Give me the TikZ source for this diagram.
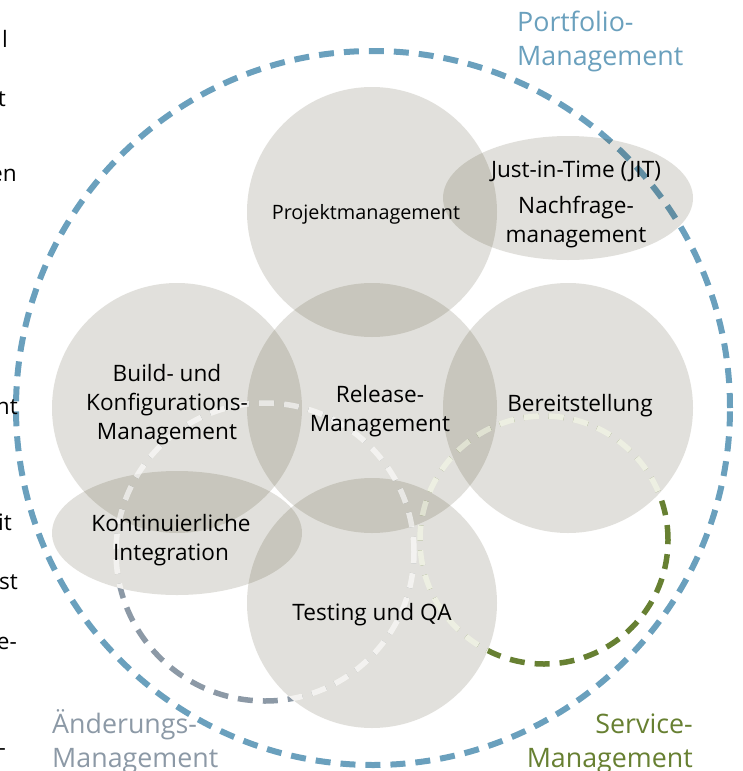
\documentclass[tikz,border=0pt]{standalone}
\usepackage{fontspec}
\setmainfont{Open Sans}
\usetikzlibrary{shapes.geometric,positioning}

\definecolor{bubblec}{RGB}{45,38,5}
\definecolor{pfblue}{RGB}{106,160,189}
\definecolor{aegrey}{RGB}{140,153,166}
\definecolor{svgreen}{RGB}{103,128,50}
\definecolor{svlight}{RGB}{249,255,233}

\pgfdeclarelayer{back}
\pgfsetlayers{back,main}

\tikzset{
  bubble/.style={circle,minimum size=250pt,inner sep=0pt,fill=bubblec,fill opacity=0.14},
  oval/.style={ellipse,minimum width=250pt,minimum height=124pt,inner sep=0pt,fill=bubblec,fill opacity=0.14},
  ring/.style={circle,inner sep=0pt,draw,line width=5.5pt,dash pattern=on 15pt off 10pt},
  txt/.style={font=\fontsize{22.6}{29}\selectfont,align=center,inner sep=0pt},
  area/.style={font=\fontsize{26.8}{34}\selectfont,inner sep=0pt},
  bubbles/.style={insert path={
      (PRJ.center) circle [radius=125] (REL.center) circle [radius=125]
      (BLD.center) circle [radius=125] (BER.center) circle [radius=125]
      (TST.center) circle [radius=125]
      (KI.center) ellipse [x radius=125,y radius=62]
      (JIT.center) ellipse [x radius=125,y radius=62]}},
}

\begin{document}
\begin{tikzpicture}[x=1pt,y=-1pt,node distance=196pt]
        \useasboundingbox (0,0) rectangle (742,771);

        % the seven areas
        \node[bubble] (REL) at (372,408)                       {};
        \node[bubble] (PRJ) [above of=REL]                     {};
        \node[bubble] (BLD) [left of=REL,node distance=195pt]  {};
        \node[bubble] (BER) [right of=REL]                     {};
        \node[bubble] (TST) [below of=REL,node distance=195pt] {};
        \node[oval]   (KI)  [below of=BLD,node distance=125pt] {};
        \node[oval]   (JIT) [above of=BER,node distance=210pt] {};

        % dashed rings go underneath
        \begin{pgfonlayer}{back}
                \node[ring,draw=pfblue,line width=6pt,minimum size=714pt] (PF) at (373,408) {};
                \node[ring,draw=aegrey,minimum size=298pt]                (AE) at (265,552) {};
                \node[ring,draw=svgreen,minimum size=248pt]               (SV) at (544,540) {};
                \begin{scope}
                        \clip[bubbles];
                        \node[ring,draw=white,line width=7.5pt,minimum size=298pt] (AE0) at (AE.center) {};
                        \node[ring,draw=white,line width=7.5pt,minimum size=248pt] (SV0) at (SV.center) {};
                \end{scope}
        \end{pgfonlayer}

        % pale dashes inside the areas
        \begin{scope}
                \clip[bubbles];
                \node[ring,draw=white,draw opacity=0.6,minimum size=298pt]   (AE1) at (AE.center) {};
                \node[ring,draw=svlight,draw opacity=0.5,minimum size=248pt] (SV1) at (SV.center) {};
        \end{scope}

        \node[txt,font=\fontsize{19.8}{24}\selectfont] (tPRJ) at ([shift={(-6,2)}]PRJ) {Projektmanagement};
        \node[txt] (tJIT) at ([shift={(8,6)}]JIT)    {Just-in-Time (JIT)\\[7pt]Nachfrage-\\management};
        \node[txt] (tBLD) at ([shift={(-10,-3)}]BLD) {Build- und\\Konfigurations-\\Management};
        \node[txt] (tREL) at ([shift={(8,3)}]REL)    {Release-\\Management};
        \node[txt] (tBER) at ([shift={(12,-2)}]BER)  {Bereitstellung};
        \node[txt] (tKI)  at ([shift={(-6,7)}]KI)    {Kontinuierliche\\Integration};
        \node[txt] (tTST) at ([shift={(0,12)}]TST)   {Testing und QA};

        \node[area,text=pfblue,align=left,anchor=base west]   (tPF) at (517,65)  {Portfolio-\\Management};
        \node[area,text=aegrey,align=left,anchor=base west]   (tAE) at (52,767)  {Änderungs-\\Management};
        \node[area,text=svgreen,align=right,anchor=base east] (tSV) at (693,767) {Service-\\Management};

        % ends of the neighbouring text
        \node[txt,anchor=base east] (f1) at (8,47)   {l};
        \node[txt,anchor=base east] (f2) at (6,106)  {t};
        \node[txt,anchor=base east] (f3) at (17,181) {en};
        \node[txt,anchor=base east] (f4) at (18,414) {nt};
        \node[txt,anchor=base east] (f5) at (12,530) {it};
        \node[txt,anchor=base east] (f6) at (18,589) {st};
        \node[txt,anchor=base east] (f7) at (17,649) {e-};
        \node[txt,anchor=base east] (f8) at (6,755)  {-};
\end{tikzpicture}
\end{document}
